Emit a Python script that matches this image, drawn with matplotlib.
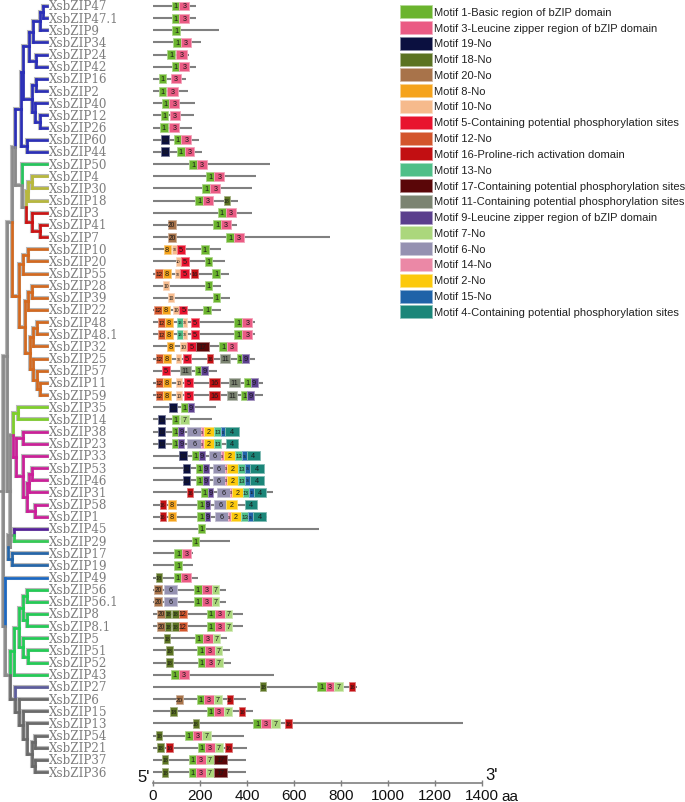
import matplotlib
matplotlib.use("Agg")
import matplotlib.pyplot as plt
from matplotlib.patches import Rectangle
from matplotlib.colors import to_rgb

# ---------------- data ----------------
genes = ['XsbZIP47','XsbZIP47.1','XsbZIP9','XsbZIP34','XsbZIP24','XsbZIP42','XsbZIP16','XsbZIP2',
         'XsbZIP40','XsbZIP12','XsbZIP26','XsbZIP60','XsbZIP44','XsbZIP50','XsbZIP4','XsbZIP30',
         'XsbZIP18','XsbZIP3','XsbZIP41','XsbZIP7','XsbZIP10','XsbZIP20','XsbZIP55','XsbZIP28',
         'XsbZIP39','XsbZIP22','XsbZIP48','XsbZIP48.1','XsbZIP32','XsbZIP25','XsbZIP57','XsbZIP11',
         'XsbZIP59','XsbZIP35','XsbZIP14','XsbZIP38','XsbZIP23','XsbZIP33','XsbZIP53','XsbZIP46',
         'XsbZIP31','XsbZIP58','XsbZIP1','XsbZIP45','XsbZIP29','XsbZIP17','XsbZIP19','XsbZIP49',
         'XsbZIP56','XsbZIP56.1','XsbZIP8','XsbZIP8.1','XsbZIP5','XsbZIP51','XsbZIP52','XsbZIP43',
         'XsbZIP27','XsbZIP6','XsbZIP15','XsbZIP13','XsbZIP54','XsbZIP21','XsbZIP37','XsbZIP36']

lengths = [182,182,282,206,152,182,139,150,177,176,166,194,210,498,437,420,
           360,423,357,753,291,306,325,291,328,288,434,434,359,434,271,470,
           470,267,251,365,365,455,474,474,512,442,484,705,328,172,172,193,
           311,311,382,382,316,328,333,515,868,396,424,1319,386,399,396,396]

# (motif, start, end) per protein, in aa
motif_sites = [
    [(1,80,112),(3,112,155)],
    [(1,80,112),(3,112,155)],
    [(1,82,115)],
    [(1,87,119),(3,119,162)],
    [(1,61,92),(3,99,143)],
    [(1,79,112),(3,112,155)],
    [(1,24,55),(3,77,119)],
    [(1,24,55),(3,61,106)],
    [(1,37,70),(3,70,112)],
    [(1,34,64),(3,71,115)],
    [(1,30,62),(3,70,112)],
    [(19,34,67),(1,88,121),(3,121,163)],
    [(19,34,67),(1,102,135),(3,135,176)],
    [(1,155,187),(3,187,230)],
    [(1,227,260),(3,260,304)],
    [(1,210,244),(3,244,287)],
    [(1,180,213),(3,213,257),(18,301,328)],
    [(1,277,309),(3,309,353)],
    [(20,62,96),(1,257,289),(3,289,332)],
    [(20,65,99),(1,312,345),(3,345,389)],
    [(8,45,75),(10,82,101),(5,101,138),(1,203,237)],
    [(10,96,118),(5,118,153),(1,220,252)],
    [(12,10,43),(8,43,75),(10,95,115),(5,115,152),(16,163,193),(1,251,285)],
    [(10,44,70),(1,220,252)],
    [(10,64,89),(1,254,287)],
    [(12,4,37),(8,37,74),(10,86,112),(5,112,146),(1,214,248)],
    [(12,23,52),(8,52,85),(13,104,126),(10,126,146),(5,160,197),(1,346,380),(3,380,423)],
    [(12,23,52),(8,52,85),(13,104,126),(10,126,146),(5,160,197),(1,346,380),(3,380,423)],
    [(8,58,89),(10,115,143),(5,146,183),(17,184,238),(1,282,316),(3,316,356)],
    [(12,11,44),(8,44,75),(10,98,118),(5,126,162),(16,231,257),(11,285,328),(1,356,380),(9,380,407)],
    [(5,38,74),(11,116,162),(1,177,206),(9,206,234)],
    [(12,11,44),(8,44,75),(10,98,122),(5,132,169),(16,238,285),(11,325,370),(1,389,416),(9,416,445)],
    [(12,11,44),(8,44,75),(10,98,122),(5,132,169),(16,238,285),(11,313,359),(1,374,401),(9,401,431)],
    [(19,70,102),(1,119,148),(9,148,173)],
    [(19,21,52),(1,79,112),(7,115,155)],
    [(19,21,52),(1,79,108),(9,108,132),(6,146,206),(14,206,217),(2,217,261),(13,261,291),(15,291,306),(4,306,365)],
    [(19,21,52),(1,79,108),(9,108,132),(6,146,206),(14,206,217),(2,217,261),(13,261,291),(4,309,362)],
    [(19,111,143),(1,166,196),(9,196,220),(6,238,291),(14,291,302),(2,302,348),(13,348,379),(15,379,399),(4,399,455)],
    [(19,126,159),(1,183,213),(9,213,237),(6,254,308),(14,308,316),(2,316,363),(13,363,393),(15,393,413),(4,413,474)],
    [(19,126,159),(1,183,213),(9,213,237),(6,254,308),(14,308,316),(2,316,363),(13,363,393),(15,393,413),(4,413,474)],
    [(16,146,172),(1,204,233),(9,233,257),(6,274,328),(14,328,338),(2,338,382),(13,382,410),(15,410,431),(4,431,481)],
    [(16,28,54),(8,64,96),(1,189,220),(9,220,243),(6,261,311),(2,311,356),(4,390,443)],
    [(16,28,54),(8,64,96),(1,189,220),(9,220,243),(6,264,319),(14,319,330),(2,330,374),(13,374,406),(15,406,426),(4,426,481)],
    [(1,191,223)],
    [(1,164,196)],
    [(1,91,123),(3,123,163)],
    [(1,91,123)],
    [(18,11,40),(1,88,119),(3,119,162)],
    [(20,4,38),(6,48,104),(1,174,207),(3,207,250),(7,250,282)],
    [(20,4,38),(6,48,104),(1,174,207),(3,207,250),(7,250,282)],
    [(20,18,52),(18,52,78),(18,82,109),(12,109,145),(1,230,262),(3,262,305),(7,305,338)],
    [(20,18,52),(18,52,78),(18,82,109),(12,109,145),(1,230,262),(3,262,305),(7,305,338)],
    [(18,47,74),(1,180,211),(3,211,254),(7,254,287)],
    [(18,57,84),(1,189,220),(3,220,262),(7,262,295)],
    [(18,57,84),(1,191,223),(3,223,265),(7,265,298)],
    [(1,75,109),(3,109,153)],
    [(18,455,482),(1,698,735),(3,735,772),(7,772,809),(16,834,860)],
    [(20,96,129),(1,186,217),(3,217,260),(7,260,292),(16,313,339)],
    [(18,72,101),(1,228,260),(3,260,302),(7,302,336),(16,367,393)],
    [(18,169,196),(1,427,458),(3,458,501),(7,504,540),(16,563,590)],
    [(18,13,40),(1,136,169),(3,169,208),(7,208,245)],
    [(18,18,45),(16,55,84),(1,190,223),(3,223,264),(7,264,299),(16,308,336)],
    [(18,38,65),(1,152,183),(3,183,225),(7,225,261),(17,261,313)],
    [(18,38,65),(1,152,183),(3,183,225),(7,225,261),(17,261,313)],
]

legend_motifs = [1,3,19,18,20,8,10,5,12,16,13,17,11,9,7,6,14,2,15,4]
legend_labels = ['Motif 1-Basic region of bZIP domain',
                 'Motif 3-Leucine zipper region of bZIP domain',
                 'Motif 19-No','Motif 18-No','Motif 20-No','Motif 8-No','Motif 10-No',
                 'Motif 5-Containing potential phosphorylation sites','Motif 12-No',
                 'Motif 16-Proline-rich activation domain','Motif 13-No',
                 'Motif 17-Containing potential phosphorylation sites',
                 'Motif 11-Containing potential phosphorylation sites',
                 'Motif 9-Leucine zipper region of bZIP domain','Motif 7-No','Motif 6-No',
                 'Motif 14-No','Motif 2-No','Motif 15-No',
                 'Motif 4-Containing potential phosphorylation sites']
motif_colors = {1:'#6bb42e',3:'#ea5b84',19:'#0b1040',18:'#5b7322',20:'#a8734a',8:'#f5a31c',
                10:'#f6ba8c',5:'#e8132e',12:'#d3552c',16:'#c20f12',13:'#4fbf88',17:'#5a0608',
                11:'#7b8471',9:'#5b3f8d',7:'#abd77c',6:'#9591b1',14:'#eb88a6',2:'#fcc90c',
                15:'#1f63a8',4:'#1b8679'}

axis_ticks = [0,200,400,600,800,1000,1200,1400]

# ---------------- tree (node depth in px-units, colour, children) ----------------
GR = '#8a8a8a'; DG = '#6a6a6a'
BL = '#2b2fb8'; G50 = '#25c65c'; YE = '#b8b83c'; RE = '#cc1414'; OR = '#d4691f'
LG = '#7ed02a'; MA = '#cc1f99'; PU = '#56209a'; G29 = '#33cc55'; B17 = '#2466aa'
B49 = '#1a68c4'; GN = '#22cc55'; C27 = '#5c5c9c'

def N(x, c, ch):
    return {'x': x, 'c': c, 'ch': ch}

blue = N(21, BL, [N(23, BL, [N(29, BL, [N(33, BL, [N(40, BL, [N(43, BL, ['XsbZIP47', 'XsbZIP47.1']), 'XsbZIP9']), 'XsbZIP34']),
                                         N(36, BL, ['XsbZIP24', 'XsbZIP42'])]),
                             N(32, BL, [N(36, BL, ['XsbZIP16', 'XsbZIP2']),
                                         N(35, BL, ['XsbZIP40', N(40, BL, ['XsbZIP12', 'XsbZIP26'])])])]),
                  N(27, BL, ['XsbZIP60', 'XsbZIP44'])])
yelred = N(22, GR, [('XsbZIP50', G50),
                    N(26, GR, [N(28, YE, [N(32, YE, ['XsbZIP4', 'XsbZIP30']), 'XsbZIP18']),
                               N(32, RE, ['XsbZIP3', N(40, RE, ['XsbZIP41', 'XsbZIP7'])])])])
orange = N(15, OR, [N(19, OR, [N(23, OR, [N(28, OR, ['XsbZIP10', 'XsbZIP20']), 'XsbZIP55']),
                               N(25, OR, [N(28, OR, [N(32, OR, ['XsbZIP28', 'XsbZIP39']), 'XsbZIP22']),
                                          N(30, OR, [N(33, OR, [N(37, OR, ['XsbZIP48', 'XsbZIP48.1']), 'XsbZIP32']),
                                                     N(33, OR, ['XsbZIP25', N(37, OR, ['XsbZIP57', N(40, OR, ['XsbZIP11', 'XsbZIP59'])])])])])])])
lm = N(13, GR, [N(18, LG, ['XsbZIP35', 'XsbZIP14']),
                N(16, MA, [N(23, MA, ['XsbZIP38', 'XsbZIP23']),
                           N(23, MA, ['XsbZIP33', N(27, MA, [N(29, MA, [N(32, MA, ['XsbZIP53', 'XsbZIP46']), 'XsbZIP31']),
                                                             N(35, MA, ['XsbZIP58', 'XsbZIP1'])])])])])
g45 = N(8, GR, [N(14, GR, [('XsbZIP45', PU), ('XsbZIP29', G29)]), N(12, B17, ['XsbZIP17', 'XsbZIP19'])])
green = N(14, GN, [N(19, GN, [N(23, GN, [N(27, GN, ['XsbZIP56', 'XsbZIP56.1']), N(27, GN, ['XsbZIP8', 'XsbZIP8.1'])]),
                              N(23, GN, ['XsbZIP5', N(28, GN, ['XsbZIP51', 'XsbZIP52'])])]), 'XsbZIP43'])
grayc = N(15, DG, [('XsbZIP27', C27),
                   N(19, DG, ['XsbZIP6', N(23, DG, ['XsbZIP15', N(27, DG, ['XsbZIP13',
                        N(32, DG, [N(35, DG, ['XsbZIP54', 'XsbZIP21']), N(35, DG, ['XsbZIP37', 'XsbZIP36'])])])])])])
tree = N(3, GR, [N(7, GR, [N(12, GR, [N(15, GR, [blue, yelred]), orange]), N(10, GR, [lm, g45])]),
                 N(5, GR, [('XsbZIP49', B49), N(10, GR, [green, grayc])])])

TIP_X = 47

# ---------------- figure ----------------
W, H = 685, 803
fig = plt.figure(figsize=(W/100, H/100), dpi=100)
row0_px, row_step = 7.0, 12.16
axis_px = 784.0
ytop = 1 - row0_px/row_step
ybot = 1 + (axis_px - row0_px)/row_step

def fx(px): return px/W
def fy(py): return 1 - py/H

ax_tree = fig.add_axes([0, (H-axis_px)/H, fx(153), axis_px/H])
ax_tree.set_xlim(0, 153); ax_tree.set_ylim(ybot, ytop); ax_tree.axis('off')

ax_x0, ax_x1 = 153, 482
ax = fig.add_axes([fx(ax_x0), (H-axis_px)/H, fx(ax_x1-ax_x0), axis_px/H])
ax.set_xlim(0, 1400); ax.set_ylim(ybot, ytop)
px_per_aa = (ax_x1 - ax_x0) / 1400.0

row_of = {g: i+1 for i, g in enumerate(genes)}

def layout(node):
    if isinstance(node, dict):
        ys = [layout(ch) for ch in node['ch']]
        node['y'] = (ys[0] + ys[-1]) / 2
        return node['y']
    name = node[0] if isinstance(node, tuple) else node
    return row_of[name]

layout(tree)

def draw_seg(xs, ys, c):
    ax_tree.plot(xs, ys, color='#b8b8b8', lw=2.9, solid_capstyle='projecting', zorder=1)
    ax_tree.plot(xs, ys, color=c, lw=1.9, solid_capstyle='projecting', zorder=2)

def draw(node):
    for ch in node['ch']:
        if isinstance(ch, dict):
            cy, cx, cc = ch['y'], ch['x'], ch['c']
        else:
            name, cc = (ch if isinstance(ch, tuple) else (ch, node['c']))
            cy, cx = row_of[name], TIP_X
        draw_seg([node['x'], node['x']], [node['y'], cy], cc)
        draw_seg([node['x'], cx], [cy, cy], cc)
        if isinstance(ch, dict):
            draw(ch)

draw(tree)
ax_tree.plot([0, tree['x']], [tree['y'], tree['y']], color=GR, lw=1.9)

for g in genes:
    ax_tree.text(TIP_X + 1.5, row_of[g], g, family='DejaVu Serif', fontsize=8.6,
                 color='#7d7d7d', va='center', ha='left', clip_on=False, zorder=3)

# motif diagram
bh = 0.74
def lighten(c, f=0.45):
    r, g, b = to_rgb(c)
    return (r + (1-r)*f, g + (1-g)*f, b + (1-b)*f)

base_fs = 5.2
for i, g in enumerate(genes):
    r = i + 1
    ax.plot([0, lengths[i]], [r, r], color='#808080', lw=1.5, zorder=1, solid_capstyle='butt')
    for m, s, e in motif_sites[i]:
        col = motif_colors[m]
        ax.add_patch(Rectangle((s, r - bh/2), e - s, bh, facecolor=col,
                               edgecolor=lighten(col), lw=0.6, zorder=2))
        lab = str(m)
        w_px = (e - s) * px_per_aa
        need = len(lab) * 0.556 * base_fs * 100 / 72
        fs = base_fs if need <= w_px - 0.6 else max(2.0, base_fs * (w_px - 0.6) / need)
        ax.text((s+e)/2, r, lab, fontsize=fs, family='Liberation Sans',
                color='#1a1a1a', ha='center', va='center', zorder=3)

for sp in ['top', 'right', 'left']:
    ax.spines[sp].set_visible(False)
ax.spines['bottom'].set_color('#808080')
ax.spines['bottom'].set_linewidth(1.2)
ax.set_yticks([])
ax.set_xticks(axis_ticks)
ax.set_xticklabels([str(t) for t in axis_ticks], family='Liberation Sans', fontsize=11, color='#111111')
ax.tick_params(axis='x', direction='inout', length=5, width=1, color='#808080', pad=1)
ax.patch.set_alpha(0)

fig.text(fx(137), fy(778), "5'", family='Liberation Sans', fontsize=12, ha='left', va='center', color='#111')
fig.text(fx(485), fy(776), "3'", family='Liberation Sans', fontsize=12, ha='left', va='center', color='#111')
fig.text(fx(501), fy(797), "aa", family='Liberation Sans', fontsize=11, ha='left', va='center', color='#111')

# legend
lx0, lw_, lh = 400, 32, 13
ly0, lstep = 12.7, 15.8
for k, (m, lab) in enumerate(zip(legend_motifs, legend_labels)):
    yc = ly0 + k*lstep
    fig.patches.append(Rectangle((fx(lx0), fy(yc + lh/2)), lw_/W, lh/H, transform=fig.transFigure,
                                 facecolor=motif_colors[m], edgecolor=lighten(motif_colors[m], 0.5), lw=0.6))
    fig.text(fx(lx0 + lw_ + 2), fy(yc), lab, family='Liberation Sans', fontsize=8,
             color='#222222', ha='left', va='center')

fig.savefig('out.png', dpi=100)
